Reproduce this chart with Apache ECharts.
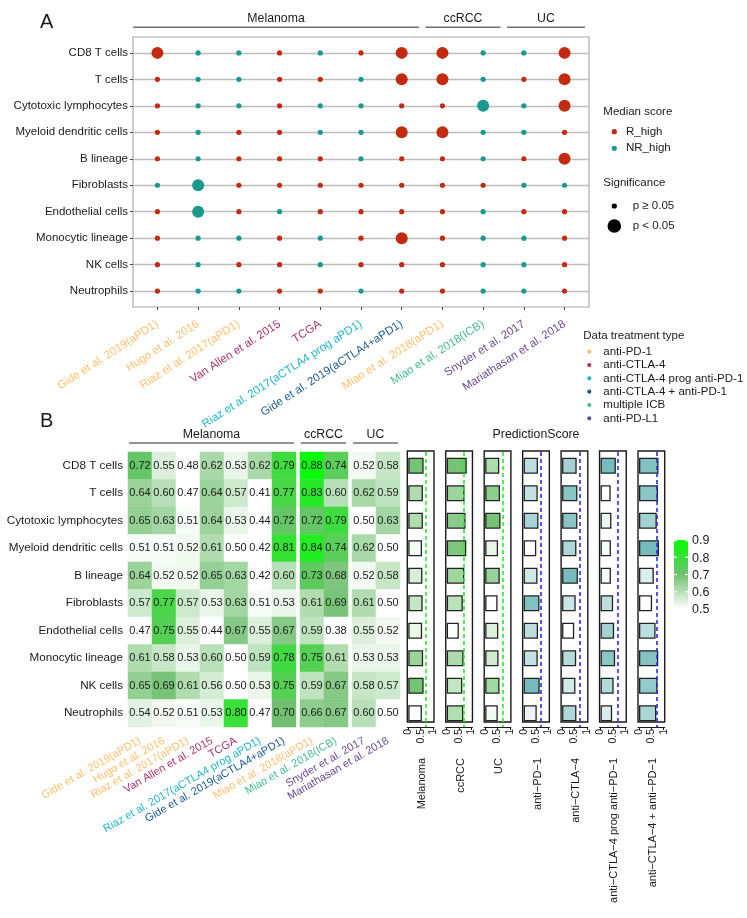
<!DOCTYPE html>
<html><head><meta charset="utf-8">
<script src="https://cdn.jsdelivr.net/npm/echarts@6/dist/echarts.min.js"></script>
<style>html,body{margin:0;padding:0;background:#fff}#c{width:747px;height:918px}</style>
</head><body><div id="c"></div>
<script>
// ---------------- DATA ----------------
const cellTypes = ['CD8 T cells','T cells','Cytotoxic lymphocytes','Myeloid dendritic cells','B lineage','Fibroblasts','Endothelial cells','Monocytic lineage','NK cells','Neutrophils'];
const datasets = ['Gide et al. 2019(aPD1)','Hugo et al. 2016','Riaz et al. 2017(aPD1)','Van Allen et al. 2015','TCGA','Riaz et al. 2017(aCTLA4 prog aPD1)','Gide et al. 2019(aCTLA4+aPD1)','Miao et al. 2018(aPD1)','Miao et al. 2018(ICB)','Snyder et al. 2017','Mariathasan et al. 2018'];
const datasetTreatment = ['anti-PD-1','anti-PD-1','anti-PD-1','anti-CTLA-4','anti-CTLA-4','anti-CTLA-4 prog anti-PD-1','anti-CTLA-4 + anti-PD-1','anti-PD-1','multiple ICB','anti-PD-L1','anti-PD-L1'];
const datasetCancer = ['Melanoma','Melanoma','Melanoma','Melanoma','Melanoma','Melanoma','Melanoma','ccRCC','ccRCC','UC','UC'];
const cancerGroups = ['Melanoma','ccRCC','UC'];
const treatmentTypes = ['anti-PD-1','anti-CTLA-4','anti-CTLA-4 prog anti-PD-1','anti-CTLA-4 + anti-PD-1','multiple ICB','anti-PD-L1'];

// Panel A: which group has the higher median score (R = R_high, N = NR_high), per cell type, per dataset
const medianHigh = [
  ['R','N','N','R','N','R','R','R','N','N','R'],
  ['R','N','N','R','R','N','R','R','N','R','R'],
  ['R','N','N','R','N','N','R','R','N','N','R'],
  ['R','N','R','R','N','N','R','R','N','N','R'],
  ['R','N','R','R','R','N','R','R','N','R','R'],
  ['N','N','R','R','R','R','R','R','R','N','N'],
  ['R','N','R','N','R','R','R','R','N','R','R'],
  ['R','N','N','R','N','R','R','R','N','N','R'],
  ['R','N','R','R','N','R','R','R','N','N','R'],
  ['R','N','N','R','R','N','R','R','N','N','R']
];
// 1 = p < 0.05
const significant = [
  [1,0,0,0,0,0,1,1,0,0,1],
  [0,0,0,0,0,0,1,1,0,0,1],
  [0,0,0,0,0,0,0,0,1,0,1],
  [0,0,0,0,0,0,1,1,0,0,0],
  [0,0,0,0,0,0,0,0,0,0,1],
  [0,1,0,0,0,0,0,0,0,0,0],
  [0,1,0,0,0,0,0,0,0,0,0],
  [0,0,0,0,0,0,1,0,0,0,0],
  [0,0,0,0,0,0,0,0,0,0,0],
  [0,0,0,0,0,0,0,0,0,0,0]
];
// Panel B heatmap values (rows = cell types, columns = datasets)
const aucValues = [
  [0.72,0.55,0.48,0.62,0.53,0.62,0.79,0.88,0.74,0.52,0.58],
  [0.64,0.60,0.47,0.64,0.57,0.41,0.77,0.83,0.60,0.62,0.59],
  [0.65,0.63,0.51,0.64,0.53,0.44,0.72,0.72,0.79,0.50,0.63],
  [0.51,0.51,0.52,0.61,0.50,0.42,0.81,0.84,0.74,0.62,0.50],
  [0.64,0.52,0.52,0.65,0.63,0.42,0.60,0.73,0.68,0.52,0.58],
  [0.57,0.77,0.57,0.53,0.63,0.51,0.53,0.61,0.69,0.61,0.50],
  [0.47,0.75,0.55,0.44,0.67,0.55,0.67,0.59,0.38,0.55,0.52],
  [0.61,0.58,0.53,0.60,0.50,0.59,0.78,0.75,0.61,0.53,0.53],
  [0.65,0.69,0.61,0.56,0.50,0.53,0.75,0.59,0.67,0.58,0.57],
  [0.54,0.52,0.51,0.53,0.80,0.47,0.70,0.66,0.67,0.60,0.50]
];
const colorbarTicks = [0.5,0.6,0.7,0.8,0.9];
// PredictionScore bar panels
const panelNames = ['Melanoma','ccRCC','UC','anti\u2212PD\u22121','anti\u2212CTLA\u22124','anti\u2212CTLA\u22124 prog anti\u2212PD\u22121','anti\u2212CTLA\u22124 + anti\u2212PD\u22121'];
const scoreMelanoma = [0.62,0.59,0.59,0.555,0.57,0.58,0.56,0.60,0.62,0.55];
const scoreCcRCC    = [0.81,0.72,0.76,0.79,0.71,0.65,0.49,0.68,0.63,0.67];
const scoreUC       = [0.57,0.60,0.62,0.52,0.59,0.50,0.53,0.54,0.58,0.51];
const scoreAntiPD1  = [0.58,0.57,0.60,0.51,0.56,0.64,0.58,0.57,0.65,0.53];
const scoreAntiCTLA4= [0.59,0.62,0.62,0.58,0.64,0.55,0.49,0.57,0.54,0.58];
const scoreProg     = [0.62,0.41,0.44,0.42,0.42,0.51,0.55,0.59,0.53,0.47];
const scoreCombo    = [0.79,0.77,0.72,0.81,0.60,0.53,0.67,0.78,0.75,0.70];
const panelScores = [scoreMelanoma,scoreCcRCC,scoreUC,scoreAntiPD1,scoreAntiCTLA4,scoreProg,scoreCombo];
const scoreTicks = [0,0.5,1];
const predictionThreshold = 0.7;

// ---------------- STYLE / LAYOUT ----------------
const FONT = '"Liberation Sans", Arial, Helvetica, sans-serif';
const TXT = '#1a1a1a';
const treatmentColor = {'anti-PD-1':'#FDBF6F','anti-CTLA-4':'#A8326E','anti-CTLA-4 prog anti-PD-1':'#20B6C5','anti-CTLA-4 + anti-PD-1':'#1D5A8C','multiple ICB':'#46BC8D','anti-PD-L1':'#6A4C93'};
const RCOL = '#C22B10', NCOL = '#1A998E';
const labelColor = name => treatmentColor[datasetTreatment[datasets.indexOf(name)]];

const grids=[], xAxes=[], yAxes=[], series=[], visualMaps=[], graphics=[];
function addGrid(g, xa, ya){ grids.push(g); const i=grids.length-1; xa.gridIndex=i; ya.gridIndex=i; xAxes.push(xa); yAxes.push(ya); return i; }
function hiddenVal(){ return {type:'value', show:false, min:0, max:1}; }
function txt(x,y,text,opt){ opt=opt||{}; return {type:'text', x:x, y:y, rotation:opt.rot||0, z:100, style:{text:text, x:0, y:0, fill:opt.color||TXT, font:(opt.weight||'normal')+' '+(opt.size||11.5)+'px '+FONT, align:opt.align||'left', textAlign:opt.align||'left', verticalAlign:opt.va||'middle', textVerticalAlign:opt.va||'middle'}}; }
function hline(x1,x2,y,color,w){ return {type:'line', z:100, shape:{x1:x1,y1:y,x2:x2,y2:y}, style:{stroke:color||'#6b6b6b', lineWidth:w||1.5}}; }
function dot(x,y,r,color){ return {type:'circle', z:100, shape:{cx:x,cy:y,r:r}, style:{fill:color}}; }

// ===== Panel A =====
const pa = {left:133, top:37, width:456, height:270};
const ux = pa.width/(datasets.length-1+1.2), uy = pa.height/(cellTypes.length-1+1.2);
const rowTopA = pa.top+0.6*uy, rowHA = (cellTypes.length-1)*uy;
const dataLeftA = pa.left+0.1*ux;
addGrid({left:pa.left, top:pa.top, width:pa.width, height:pa.height, show:true, borderColor:'#a9a9a9', borderWidth:1.2, backgroundColor:'rgba(0,0,0,0)'}, hiddenVal(), hiddenVal());
addGrid({left:pa.left, top:rowTopA, width:pa.width, height:rowHA}, hiddenVal(),
  {type:'category', data:cellTypes, inverse:true, boundaryGap:false, axisLine:{show:false},
   axisTick:{show:true, length:3, lineStyle:{color:'#444'}},
   axisLabel:{fontSize:11.5, color:TXT, margin:5, fontFamily:FONT},
   splitLine:{show:true, lineStyle:{color:'#bdbdbd', width:1.3}}});
const giA = addGrid({left:dataLeftA, top:rowTopA, width:datasets.length*ux, height:rowHA},
  {type:'category', data:datasets, boundaryGap:true, offset:(pa.top+pa.height)-(rowTopA+rowHA),
   axisLine:{show:false}, axisTick:{show:true, alignWithLabel:true, length:3, lineStyle:{color:'#444'}},
   axisLabel:{rotate:33, interval:0, fontSize:11.5, margin:16, fontFamily:FONT, color:v=>labelColor(v)}},
  {type:'category', data:cellTypes, inverse:true, boundaryGap:false, show:false});
[['R','R_high',RCOL],['N','NR_high',NCOL]].forEach(([k,name,col])=>{
  const d=[];
  cellTypes.forEach((c,i)=>datasets.forEach((ds,j)=>{ if(medianHigh[i][j]===k) d.push([ds,c,significant[i][j]]); }));
  series.push({type:'scatter', name:name, xAxisIndex:giA, yAxisIndex:giA, data:d, symbolSize:v=>v[2]?12:5.2, itemStyle:{color:col, opacity:1}, z:5});
});
// group headers A
cancerGroups.forEach((g,gi)=>{
  const idx = datasets.map((d,i)=>i).filter(i=>datasetCancer[i]===g);
  const x1 = gi===0 ? pa.left : dataLeftA+idx[0]*ux+3.5;
  const x2 = gi===cancerGroups.length-1 ? pa.left+pa.width-4 : dataLeftA+(idx[idx.length-1]+1)*ux-3;
  graphics.push(hline(x1,x2,27.3,'#707070',1.5));
  graphics.push(txt((x1+x2)/2, 19, g, {align:'center', size:12.3}));
});
graphics.push(txt(40,22,'A',{size:20}));
// Legends A
graphics.push(txt(603.3,112.3,'Median score'));
graphics.push(dot(614.3,131.7,2.6,RCOL)); graphics.push(txt(626,131.7,'R_high'));
graphics.push(dot(614.3,148.3,2.6,NCOL)); graphics.push(txt(626,148.3,'NR_high'));
graphics.push(txt(603.3,183.3,'Significance'));
graphics.push(dot(614.3,206,2.6,'#000')); graphics.push(txt(632.7,206,'p \u2265 0.05'));
graphics.push(dot(614.3,226,6.8,'#000')); graphics.push(txt(632.7,226,'p < 0.05'));
graphics.push(txt(583.3,335.7,'Data treatment type'));
treatmentTypes.forEach((t,k)=>{ graphics.push(dot(589.3,351.7+k*13.33,2.1,treatmentColor[t])); graphics.push(txt(603.3,351.7+k*13.33,t)); });

// ===== Panel B heatmap =====
const hb = {left:128, top:452, rowH:27.5, colW:24, gap:4};
const hmSeries = [];
let curLeft = hb.left; const hmEdges = {};
cancerGroups.forEach((g,gIdx)=>{
  const idx = datasets.map((d,i)=>i).filter(i=>datasetCancer[i]===g);
  const gi = addGrid({left:curLeft, top:hb.top, width:idx.length*hb.colW, height:cellTypes.length*hb.rowH},
    {type:'category', data:idx.map(i=>datasets[i]), axisLine:{show:false}, axisTick:{show:false},
     axisLabel:{rotate:30, interval:0, fontSize:11, margin:13, fontFamily:FONT, color:v=>labelColor(v)}},
    {type:'category', data:cellTypes, inverse:true, show:gIdx===0, axisLine:{show:false}, axisTick:{show:false},
     axisLabel:{fontSize:11.7, color:TXT, margin:5, fontFamily:FONT}});
  const d=[];
  cellTypes.forEach((c,i)=>idx.forEach((j,jj)=>d.push([jj,i,aucValues[i][j]])));
  series.push({type:'heatmap', xAxisIndex:gi, yAxisIndex:gi, data:d,
    label:{show:true, formatter:p=>p.value[2].toFixed(2), fontSize:11, color:TXT, fontFamily:FONT, textBorderWidth:0},
    itemStyle:{borderWidth:0}});
  hmSeries.push(series.length-1);
  hmEdges[g] = [curLeft, curLeft+idx.length*hb.colW];
  curLeft += idx.length*hb.colW + hb.gap;
});
visualMaps.push({type:'continuous', show:false, min:0.5, max:0.9, dimension:2, seriesIndex:hmSeries,
  inRange:{color:['#ffffff','#70c070','#00ff00']}, outOfRange:{color:'#ffffff'}});
cancerGroups.forEach((g)=>{
  const [a,b] = hmEdges[g];
  const x1 = a+1, x2 = b-2;
  graphics.push(hline(x1,x2,443,'#707070',1.5));
  graphics.push(txt((x1+x2)/2,435,g,{align:'center', size:12.3}));
});
graphics.push(txt(40,421,'B',{size:20}));
// colour bar
const cb = {x:674, y:540, w:14, h:69};
graphics.push({type:'rect', z:100, shape:{x:cb.x,y:cb.y,width:cb.w,height:cb.h},
  style:{fill:new echarts.graphic.LinearGradient(0,0,0,1,[{offset:0,color:'#00ff00'},{offset:0.5,color:'#70c070'},{offset:1,color:'#ffffff'}])}});
colorbarTicks.forEach(t=>{
  const y = cb.y + cb.h - (t-0.5)/0.4*cb.h;
  const yy = Math.min(Math.max(y, cb.y+0.7), cb.y+cb.h-0.7);
  graphics.push({type:'line', z:101, shape:{x1:cb.x,y1:yy,x2:cb.x+3,y2:yy}, style:{stroke:'#fff',lineWidth:1.2}});
  graphics.push({type:'line', z:101, shape:{x1:cb.x+cb.w-3,y1:yy,x2:cb.x+cb.w,y2:yy}, style:{stroke:'#fff',lineWidth:1.2}});
  graphics.push(txt(cb.x+cb.w+4, y+1, t.toFixed(1), {size:12.5}));
});

// ===== PredictionScore bar panels =====
const bp = {left:407.3, step:38.45, width:26.7, top:452, height:275, boxTop:451, boxH:271};
panelScores.forEach((vals,k)=>{
  const l = bp.left + k*bp.step;
  const green = k<3;
  addGrid({left:l, top:bp.boxTop, width:bp.width, height:bp.boxH, show:true, borderColor:'#1a1a1a', borderWidth:1.4, backgroundColor:'rgba(0,0,0,0)'}, hiddenVal(), hiddenVal());
  const gi = addGrid({left:l, top:bp.top, width:bp.width, height:bp.height},
    {type:'value', min:-0.04, max:1.04, axisLine:{show:true, onZero:false, lineStyle:{color:TXT, width:1}},
     axisTick:{show:true, customValues:scoreTicks, length:3, lineStyle:{color:TXT}},
     axisLabel:{show:true, customValues:scoreTicks, rotate:90, fontSize:10.5, margin:2, color:TXT, fontFamily:FONT, formatter:v=>String(v)},
     splitLine:{show:false}},
    {type:'category', data:cellTypes, inverse:true, show:false});
  series.push({type:'bar', xAxisIndex:gi, yAxisIndex:gi, data:vals.map((v,i)=>[v,cellTypes[i]]), barWidth:16,
    itemStyle:{borderColor:'#222', borderWidth:1.3},
    markLine:{silent:true, symbol:'none', label:{show:false}, animation:false,
      lineStyle:{type:[4,3], color: green ? '#22ee22' : '#2a2af0', width:1.6}, data:[{xAxis:predictionThreshold}]}});
  visualMaps.push({type:'continuous', show:false, seriesIndex:series.length-1, dimension:0,
    min:Math.min(...vals), max:Math.max(...vals), inRange:{color:['#ffffff', green ? '#74c474' : '#76bcbc']}});
  graphics.push(txt(l+bp.width/2+1.5, 758, panelNames[k], {rot:Math.PI/2, align:'right', size:11}));
});
graphics.push(txt(bp.left + (6*bp.step+bp.width)/2, 435, 'PredictionScore', {align:'center', size:12.3}));

const chart = echarts.init(document.getElementById('c'), null, {renderer:'canvas'});
chart.setOption({
  animation:false,
  backgroundColor:'#ffffff',
  textStyle:{fontFamily:FONT},
  grid:grids, xAxis:xAxes, yAxis:yAxes, series:series, visualMap:visualMaps,
  graphic:{elements:graphics}
});
</script></body></html>
